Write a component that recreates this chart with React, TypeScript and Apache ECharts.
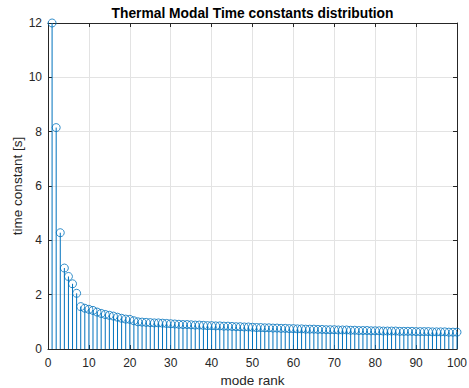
import React, { useEffect, useRef } from "react";
import * as echarts from "echarts";

const titleText = "Thermal Modal Time constants distribution";
const xName = "mode rank";
const yName = "time constant [s]";

const timeConstants: number[] = [
  12.0, 8.15, 4.28, 2.98, 2.67, 2.4, 2.05, 1.56, 1.5, 1.46,
  1.42, 1.36, 1.31, 1.27, 1.24, 1.21, 1.17, 1.13, 1.1, 1.09,
  1.04, 1.0, 0.99, 0.98, 0.97, 0.96, 0.96, 0.95, 0.94, 0.93,
  0.92, 0.91, 0.9, 0.9, 0.89, 0.88, 0.88, 0.87, 0.86, 0.86,
  0.85, 0.85, 0.84, 0.84, 0.83, 0.82, 0.82, 0.81, 0.81, 0.8,
  0.79, 0.79, 0.78, 0.78, 0.77, 0.77, 0.76, 0.76, 0.75, 0.75,
  0.74, 0.74, 0.73, 0.73, 0.73, 0.72, 0.72, 0.71, 0.71, 0.71,
  0.7, 0.7, 0.7, 0.69, 0.69, 0.68, 0.68, 0.68, 0.67, 0.67,
  0.67, 0.66, 0.66, 0.66, 0.66, 0.65, 0.65, 0.65, 0.65, 0.64,
  0.64, 0.64, 0.64, 0.63, 0.63, 0.63, 0.63, 0.62, 0.62, 0.62,
];
const modeRanks: number[] = timeConstants.map((_, i) => i + 1);

const blue = "#0072BD";
const axisColor = "#262626";
const gridColor = "#e3e3e3";
const font = "'Liberation Sans', Arial, Helvetica, sans-serif";

export default function App() {
  const ref = useRef<HTMLDivElement>(null);
  useEffect(() => {
    if (!ref.current) return;
    const chart = echarts.init(ref.current, null, { renderer: "svg" });
    const pts = modeRanks.map((x, i) => [x, timeConstants[i]]);
    const baseX = {
      type: "value" as const,
      min: 0,
      max: 100,
      interval: 10,
    };
    const baseY = {
      type: "value" as const,
      min: 0,
      max: 12,
      interval: 2,
    };
    chart.setOption({
      animation: false,
      backgroundColor: "#ffffff",
      textStyle: { fontFamily: font },
      grid: {
        left: 48,
        right: 12,
        top: 23,
        bottom: 39,
        containLabel: false,
        outerBoundsMode: "none",
      },
      graphic: [
        {
          type: "text",
          x: 252.5,
          y: 13,
          style: {
            text: titleText,
            fontFamily: font,
            fontSize: 13.8,
            fontWeight: "bold",
            fill: "#000000",
            textAlign: "center",
            textVerticalAlign: "middle",
          },
        },
      ],
      xAxis: [
        {
          ...baseX,
          position: "bottom",
          name: xName,
          nameLocation: "middle",
          nameGap: 24,
          nameMoveOverlap: false,
          nameTextStyle: { color: axisColor, fontSize: 13.5, fontFamily: font },
          axisLine: { show: true, onZero: false, lineStyle: { color: axisColor, width: 1 } },
          axisTick: { show: true, inside: true, length: 4, lineStyle: { color: axisColor } },
          axisLabel: { color: axisColor, fontSize: 12, margin: 8, fontFamily: font },
          splitLine: { show: true, lineStyle: { color: gridColor, width: 1 } },
        },
        {
          ...baseX,
          position: "top",
          axisLine: { show: true, onZero: false, lineStyle: { color: axisColor, width: 1 } },
          axisTick: { show: true, inside: true, length: 4, lineStyle: { color: axisColor } },
          axisLabel: { show: false },
          splitLine: { show: false },
        },
      ],
      yAxis: [
        {
          ...baseY,
          position: "left",
          name: yName,
          nameLocation: "middle",
          nameGap: 24,
          nameMoveOverlap: false,
          nameTextStyle: { color: axisColor, fontSize: 13.5, fontFamily: font },
          axisLine: { show: true, onZero: false, lineStyle: { color: axisColor, width: 1 } },
          axisTick: { show: true, inside: true, length: 4, lineStyle: { color: axisColor } },
          axisLabel: { color: axisColor, fontSize: 12, margin: 6, fontFamily: font },
          splitLine: { show: true, lineStyle: { color: gridColor, width: 1 } },
        },
        {
          ...baseY,
          position: "right",
          axisLine: { show: true, onZero: false, lineStyle: { color: axisColor, width: 1 } },
          axisTick: { show: true, inside: true, length: 4, lineStyle: { color: axisColor } },
          axisLabel: { show: false },
          splitLine: { show: false },
        },
      ],
      series: [
        {
          type: "custom",
          xAxisIndex: 0,
          yAxisIndex: 0,
          data: pts,
          silent: true,
          z: 2,
          renderItem: (params: any, api: any) => {
            const x = api.value(0);
            const y = api.value(1);
            const p0 = api.coord([x, 0]);
            const p1 = api.coord([x, y]);
            return {
              type: "line",
              shape: { x1: p0[0], y1: p0[1], x2: p1[0], y2: p1[1] },
              style: { stroke: blue, lineWidth: 1 },
            };
          },
        },
        {
          type: "scatter",
          xAxisIndex: 0,
          yAxisIndex: 0,
          data: pts,
          symbol: "circle",
          symbolSize: 8,
          itemStyle: { color: "transparent", borderColor: blue, borderWidth: 1 },
          silent: true,
          z: 3,
        },
      ],
    });
    return () => chart.dispose();
  }, []);
  return (
    <div
      ref={ref}
      style={{ position: "fixed", left: 0, top: 0, width: 469, height: 388 }}
    />
  );
}
